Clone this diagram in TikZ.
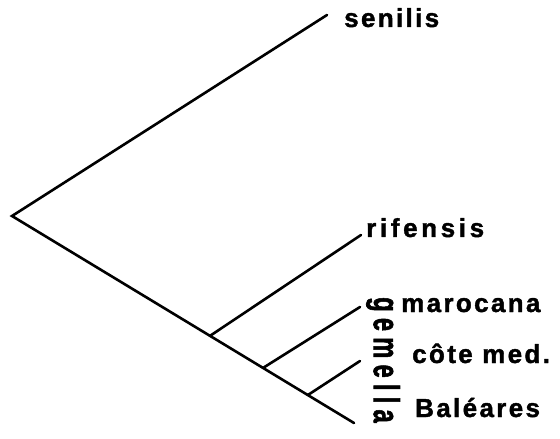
\documentclass[tikz,border=0pt]{standalone}
\usepackage{graphicx}
\usepackage{fontspec}
\setmainfont{Liberation Sans Bold}[LetterSpace=9,FakeBold=1.5]
\newfontfamily\gemfont{Liberation Sans Bold}[LetterSpace=26,FakeBold=2]
\usetikzlibrary{calc}
\begin{document}
\begin{tikzpicture}[x=1bp,y=-1bp,
  branch/.style={line width=2.6bp,line cap=round},
  taxon/.style={inner sep=0pt,anchor=base west,font=\fontsize{26bp}{28bp}\selectfont}]
\useasboundingbox (0,0) rectangle (560,439);
\coordinate (root) at (12,216);
\coordinate (sen) at (327,15);
\coordinate (bal) at (354,423);
\coordinate (j1) at ($(root)!0.579!(bal)$);
\coordinate (j2) at ($(root)!0.734!(bal)$);
\coordinate (j3) at ($(root)!0.865!(bal)$);
\coordinate (rif) at (361,235);
\coordinate (mar) at (360,307);
\coordinate (cot) at (360,361);
\draw[branch,line join=miter] (sen) -- (root) -- (bal);
\draw[branch] (j1) -- (rif);
\draw[branch] (j2) -- (mar);
\draw[branch] (j3) -- (cot);
\node[taxon] (tsen) at (344,27) {senilis};
\node[taxon] (trif) at (366,237) {\addfontfeature{LetterSpace=14}rifensis};
\node[taxon] (tmar) at (401,312) {marocana};
\node[taxon] (tcot) at (412,363) {côte med.};
\node[taxon] (tbal) at (415,417) {Baléares};
\node[inner sep=0pt,anchor=north west] (tgem) at (366,297)
  {\rotatebox{-90}{\scalebox{0.66}[1]{\gemfont\fontsize{36bp}{38bp}\selectfont gemella}}};
\end{tikzpicture}
\end{document}
